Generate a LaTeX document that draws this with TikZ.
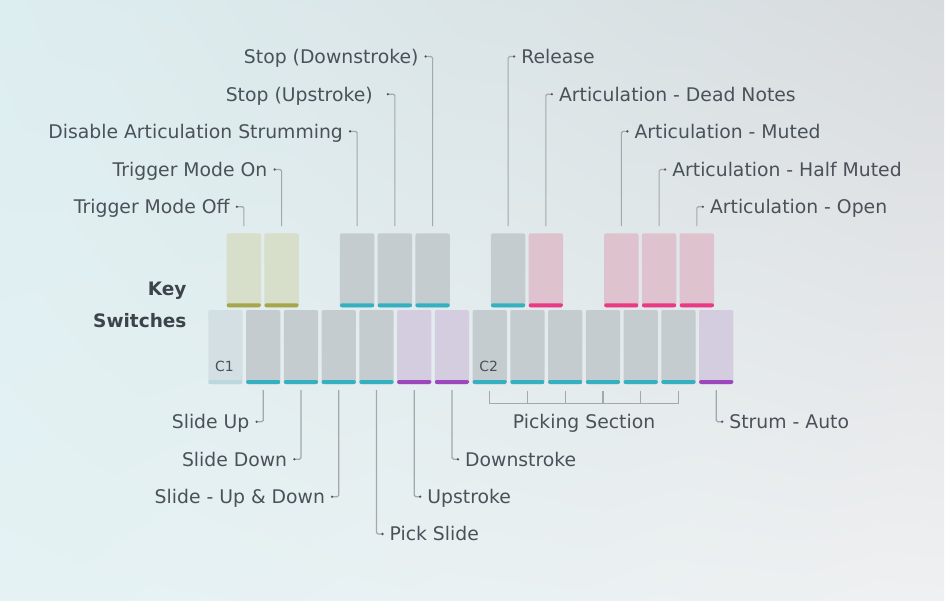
\documentclass[tikz,border=0pt]{standalone}
\usepackage{fontspec}
\setmainfont{DejaVu Sans}
\usetikzlibrary{positioning,calc,shadings}

\definecolor{txtc}{HTML}{4A5159}
\definecolor{headc}{HTML}{3C434B}
\definecolor{linec}{HTML}{A2A8AC}
\definecolor{dotc}{HTML}{50565C}
\definecolor{bgul}{HTML}{DDEEF0}
\definecolor{bgur}{HTML}{D8DBDE}
\definecolor{bgll}{HTML}{E4F2F4}
\definecolor{bglr}{HTML}{EFF0F1}
\definecolor{lightk}{HTML}{D3DFE3}
\definecolor{lightb}{HTML}{BCD8DF}
\definecolor{greyk}{HTML}{C4CCCF}
\definecolor{tealb}{HTML}{35B0C0}
\definecolor{purpk}{HTML}{D4CDE0}
\definecolor{purpb}{HTML}{9C47BC}
\definecolor{yelk}{HTML}{D7DEC9}
\definecolor{yelb}{HTML}{A8A64C}
\definecolor{pinkk}{HTML}{DEC2CE}
\definecolor{pinkb}{HTML}{E93A85}

\tikzset{
  keyb/.style 2 args={fill=#1, rounded corners=2pt, minimum width=34.3pt,
    minimum height=74pt, inner sep=0pt,
    path picture={\fill[#2] (path picture bounding box.south west) rectangle
      ([yshift=4pt]path picture bounding box.south east);}},
  lbl/.style={text=txtc, font=\fontsize{18.8}{22}\selectfont, inner sep=0pt,
    text height=13.7pt, text depth=0pt},
  clbl/.style={text=txtc, font=\fontsize{14}{16}\selectfont, inner sep=0pt},
  headlbl/.style={text=headc, font=\fontsize{18.5}{22}\selectfont\bfseries, inner sep=0pt},
  conn/.style={draw=linec, line width=1.2pt, rounded corners=1.5pt},
}

\begin{document}
\begin{tikzpicture}[x=1pt,y=-1pt]
\useasboundingbox (0,0) rectangle (947,604);
\fill[white] (0,0) rectangle (947,604);
\shade[upper left=bgul, upper right=bgur, lower left=bgll, lower right=bglr]
  (0,0) rectangle (944,600);

% keys, lower row
\foreach \i/\f/\b in {0/lightk/lightb, 1/greyk/tealb, 2/greyk/tealb, 3/greyk/tealb,
  4/greyk/tealb, 5/purpk/purpb, 6/purpk/purpb, 7/greyk/tealb, 8/greyk/tealb,
  9/greyk/tealb, 10/greyk/tealb, 11/greyk/tealb, 12/greyk/tealb, 13/purpk/purpb}
  \node[keyb={\f}{\b}] (b\i) at ({225.45+37.75*\i}, 347) {};

% keys, upper row
\foreach \s/\n/\f/\b in {0/0/yelk/yelb, 1/1/yelk/yelb, 3/2/greyk/tealb,
  4/3/greyk/tealb, 5/4/greyk/tealb, 7/5/greyk/tealb, 8/6/pinkk/pinkb,
  10/7/pinkk/pinkb, 11/8/pinkk/pinkb, 12/9/pinkk/pinkb}
  \node[keyb={\f}{\b}] (t\n) at ({243.85+37.75*\s}, 270.3) {};

\node[clbl, anchor=base west] (c1) at ([xshift=6.7pt,yshift=12.3pt]b0.south west) {C1};
\node[clbl, anchor=base west] (c2) at ([xshift=6.7pt,yshift=12.3pt]b7.south west) {C2};

\node[headlbl, anchor=base east] (ks1) at (186.7,295) {Key};
\node[headlbl, anchor=base east] (ks2) at (186.7,327.7) {Switches};

% label rows
\coordinate (r1) at (0,56.5);
\coordinate (r2) at (0,94.2);
\coordinate (r3) at (0,131.4);
\coordinate (r4) at (0,169.5);
\coordinate (r5) at (0,206.7);
\coordinate (q1) at (0,421.7);
\coordinate (q2) at (0,459.3);
\coordinate (q3) at (0,496.7);
\coordinate (q4) at (0,534);

% dots, upper labels
\coordinate (d0) at ($(t0.north |- r5)+(-7,0)$);
\coordinate (d1) at ($(t1.north |- r4)+(-7,0)$);
\coordinate (d2) at ($(t2.north |- r3)+(-7,0)$);
\coordinate (d3) at ($(t3.north |- r2)+(-7,0)$);
\coordinate (d4) at ($(t4.north |- r1)+(-7,0)$);
\coordinate (d5) at ($(t5.north |- r1)+(6,0)$);
\coordinate (d6) at ($(t6.north |- r2)+(6,0)$);
\coordinate (d7) at ($(t7.north |- r3)+(6,0)$);
\coordinate (d8) at ($(t8.north |- r4)+(6,0)$);
\coordinate (d9) at ($(t9.north |- r5)+(6,0)$);

\node[lbl, left=7pt of d0] (l0) {Trigger Mode Off};
\node[lbl, left=7pt of d1] (l1) {Trigger Mode On};
\node[lbl, left=7pt of d2] (l2) {Disable Articulation Strumming};
\node[lbl, left=15pt of d3] (l3) {Stop (Upstroke)};
\node[lbl, left=7pt of d4] (l4) {Stop (Downstroke)};
\node[lbl, right=7pt of d5] (l5) {Release};
\node[lbl, right=7pt of d6] (l6) {Articulation - Dead Notes};
\node[lbl, right=7pt of d7] (l7) {Articulation - Muted};
\node[lbl, right=7pt of d8] (l8) {Articulation - Half Muted};
\node[lbl, right=7pt of d9] (l9) {Articulation - Open};

\foreach \n in {0,...,9}
  \draw[conn] ([yshift=7pt]t\n.north) |- (d\n);

% dots, lower labels
\coordinate (e1) at ($(b1.south |- q1)+(-6.6,0)$);
\coordinate (e2) at ($(b2.south |- q2)+(-6.6,0)$);
\coordinate (e3) at ($(b3.south |- q3)+(-6.6,0)$);
\coordinate (e4) at ($(b4.south |- q4)+(6,0)$);
\coordinate (e5) at ($(b5.south |- q3)+(6,0)$);
\coordinate (e6) at ($(b6.south |- q2)+(6,0)$);
\coordinate (e13) at ($(b13.south |- q1)+(6,0)$);

\node[lbl, left=7pt of e1] (m1) {Slide Up};
\node[lbl, left=7pt of e2] (m2) {Slide Down};
\node[lbl, left=7pt of e3] (m3) {Slide - Up \& Down};
\node[lbl, right=7pt of e4] (m4) {Pick Slide};
\node[lbl, right=7pt of e5] (m5) {Upstroke};
\node[lbl, right=7pt of e6] (m6) {Downstroke};
\node[lbl, right=7pt of e13] (m13) {Strum - Auto};

\foreach \n in {1,2,3,4,5,6,13}
  \draw[conn] ([yshift=-6pt]b\n.south) |- (e\n);

\foreach \n in {0,...,9}
  \fill[dotc] (d\n) circle (1.3pt);
\foreach \n in {1,2,3,4,5,6,13}
  \fill[dotc] (e\n) circle (1.3pt);

% picking section
\draw[conn, rounded corners=0pt] ([yshift=-7pt]b7.south) -- ++(0,12) -| ([yshift=-7pt]b12.south);
\foreach \n in {8,...,11}
  \draw[conn] ([yshift=-7pt]b\n.south) -- ++(0,12);
\coordinate (pm) at ($(b9.south)!0.5!(b10.south)$);
\node[lbl] (pick) at (pm |- q1) {Picking Section};
\end{tikzpicture}
\end{document}
